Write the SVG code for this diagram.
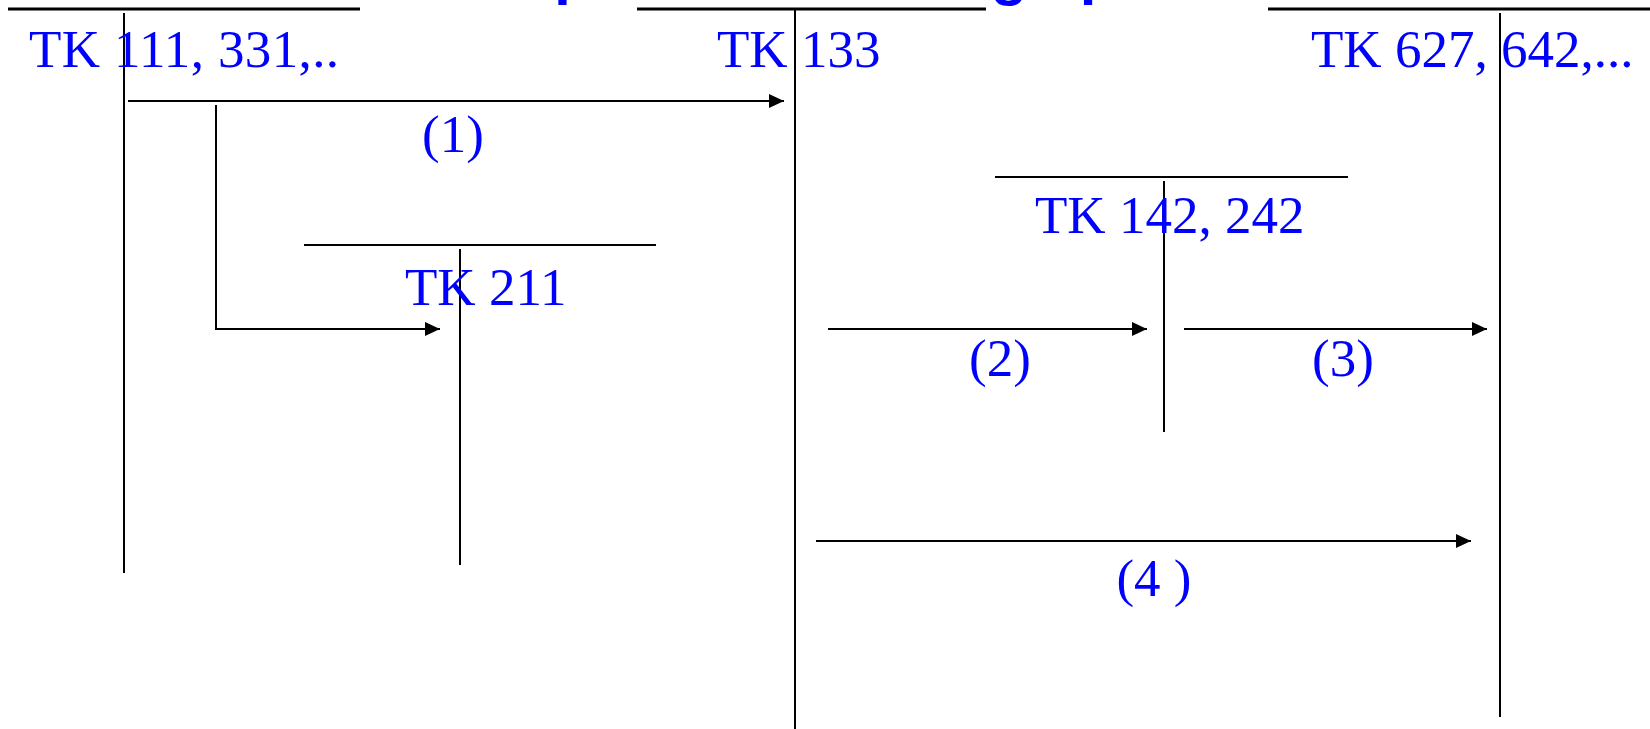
<svg xmlns="http://www.w3.org/2000/svg" width="1650" height="729" viewBox="0 0 1650 729">
  <style>
    .lbl { font-family: "Liberation Serif", "Times New Roman", serif; font-size: 53px; fill: #0000FF; }
    .title { font-family: "Liberation Sans", Arial, sans-serif; font-size: 60px; font-weight: bold; fill: #0000FF; }
    .ln { stroke: #000; stroke-width: 2; fill: none; }
    .top { stroke: #000; stroke-width: 3; fill: none; }
    .flow { stroke: #000; stroke-width: 2; fill: none; marker-end: url(#head); }
  </style>
  <defs>
    <marker id="head" markerUnits="userSpaceOnUse" markerWidth="16" markerHeight="15" refX="15" refY="7" orient="auto">
      <path d="M0,0 L15,7 L0,14 Z" fill="#000"/>
    </marker>
  </defs>
  <rect width="1650" height="729" fill="#fff"/>

  <!-- heading band above the page; only the lower marks fall inside -->
  <g id="heading">
    <line class="top" x1="8" y1="9" x2="360" y2="9"/>
    <line class="top" x1="637" y1="9" x2="986" y2="9"/>
    <line class="top" x1="1268" y1="9" x2="1650" y2="9"/>
    <text class="title" y="-6" text-anchor="middle"><tspan x="562">ạ</tspan><tspan x="1009">g</tspan><tspan x="1091">ợ</tspan></text>
  </g>

  <!-- account columns -->
  <g id="tk111">
    <line class="ln" x1="124" y1="13" x2="124" y2="573"/>
    <text class="lbl" x="29" y="67" textLength="310" lengthAdjust="spacing">TK 111, 331,..</text>
  </g>
  <g id="tk133">
    <line class="ln" x1="795" y1="8" x2="795" y2="729"/>
    <text class="lbl" x="717" y="67">TK 133</text>
  </g>
  <g id="tk627">
    <line class="ln" x1="1500" y1="13" x2="1500" y2="717"/>
    <text class="lbl" x="1311" y="67">TK 627, 642,...</text>
  </g>
  <g id="tk211">
    <line class="ln" x1="304" y1="245" x2="656" y2="245"/>
    <line class="ln" x1="460" y1="249" x2="460" y2="565"/>
    <text class="lbl" x="405" y="305">TK 211</text>
  </g>
  <g id="tk142">
    <line class="ln" x1="995" y1="177" x2="1348" y2="177"/>
    <line class="ln" x1="1164" y1="181" x2="1164" y2="432"/>
    <text class="lbl" x="1035" y="233">TK 142, 242</text>
  </g>

  <!-- entries between accounts -->
  <g id="connectors">
    <line class="flow" x1="128" y1="101" x2="784" y2="101"/>
    <path class="flow" d="M216,105 V329 H440"/>
    <line class="flow" x1="828" y1="329" x2="1147" y2="329"/>
    <line class="flow" x1="1184" y1="329" x2="1487" y2="329"/>
    <line class="flow" x1="816" y1="541" x2="1471" y2="541"/>
    <g class="lbl" text-anchor="middle">
      <text x="453" y="152">(1)</text>
      <text x="1000" y="376">(2)</text>
      <text x="1343" y="376">(3)</text>
      <text x="1154" y="596">(4 )</text>
    </g>
  </g>
</svg>
